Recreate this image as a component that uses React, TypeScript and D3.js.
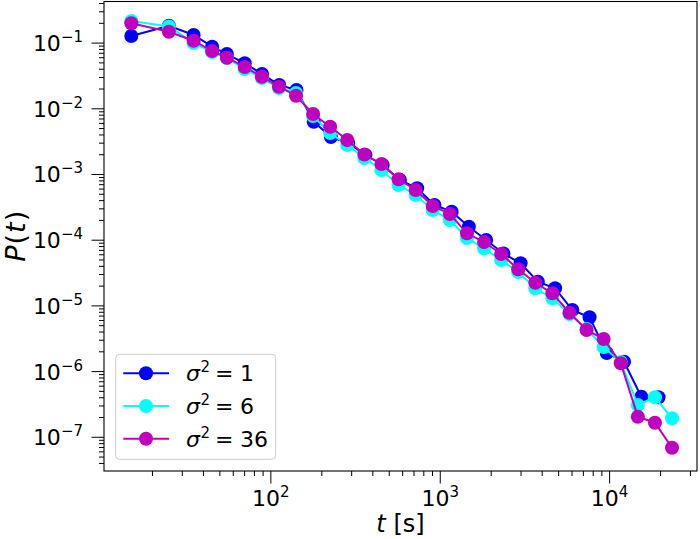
import * as d3 from "d3";

// time bins (s); blue run uses slightly wider log bins
const tBins = [15, 25, 35, 45, 55, 70.1, 88.5, 111.6, 140.8, 177.6, 224, 282.6, 356.5, 449.7, 567.3, 716, 903, 1140, 1438, 1814, 2288, 2886, 3641, 4593, 5794, 7310, 9222, 11634, 14677, 18516, 23357];
const tBinsBlue = [15, 25, 35, 45, 55, 70.1, 88.7, 112.1, 141.7, 179.1, 226.4, 286.2, 361.8, 457.3, 578, 731, 924, 1168, 1476, 1866, 2359, 2982, 3770, 4765, 6023, 7614, 9625, 12166, 15380, 19442];

const pSigma1 = [0.1282, 0.184, 0.1328, 0.0882, 0.0683, 0.0493, 0.0339, 0.023, 0.0193, 0.00636, 0.00372, 0.00302, 0.00198, 0.001395, 0.000825, 0.000617, 0.000343, 0.000272, 0.0001605, 0.0001007, 6.27e-5, 4.45e-5, 2.335e-5, 1.853e-5, 8.66e-6, 6.71e-6, 1.919e-6, 1.415e-6, 4.15e-7, 4.06e-7];
const pSigma6 = [0.217, 0.179, 0.1003, 0.0732, 0.0593, 0.0403, 0.0294, 0.0207, 0.0174, 0.00777, 0.00428, 0.00281, 0.001782, 0.001171, 0.000692, 0.000488, 0.000288, 0.000203, 0.000108, 7.53e-5, 5.0e-5, 3.28e-5, 1.853e-5, 1.305e-5, 7.53e-6, 4.45e-6, 2.37e-6, 1.4e-6, 3.1e-7, 4.06e-7, 1.946e-7];
const pSigma36 = [0.2, 0.149, 0.1088, 0.0758, 0.0599, 0.0433, 0.0308, 0.0217, 0.01583, 0.00834, 0.00534, 0.00335, 0.002016, 0.001445, 0.000845, 0.000581, 0.000332, 0.0002505, 0.0001274, 9.39e-5, 6.17e-5, 3.61e-5, 2.25e-5, 1.555e-5, 7.88e-6, 4.3e-6, 3.13e-6, 1.337e-6, 2.06e-7, 1.668e-7, 6.94e-8];

const sigmaLabels = ["1", "6", "36"];
const colors = ["#0000ff", "#00ffff", "#bf00bf"];

const font = "DejaVu Sans";

function exp(n: number) {
  return n < 0 ? `\u2212${-n}` : `${n}`;
}

export default function App() {
  const width = 700;
  const height = 539;
  const left = 104;
  const right = 697;
  const top = 1.5;
  const bottom = 471;

  const x = d3.scaleLog([10.35, 32800], [left, right]);
  const y = d3.scaleLog([10 ** -7.513, 10 ** -0.3668], [bottom, top]);

  const series = [
    { t: tBinsBlue, p: pSigma1 },
    { t: tBins, p: pSigma6 },
    { t: tBins, p: pSigma36 },
  ];

  const isMajor = (v: number) => Math.abs(Math.log10(v) - Math.round(Math.log10(v))) < 1e-9;
  const xTicks = x.ticks();
  const yTicks = y.ticks();

  return (
    <svg width={width} height={height} style={{ position: "absolute", left: 0, top: 0 }} fontFamily={font}>
      <rect width={width} height={height} fill="white" />
      <defs>
        <clipPath id="plot">
          <rect x={left} y={top} width={right - left} height={bottom - top} />
        </clipPath>
      </defs>

      <g clipPath="url(#plot)">
        {series.map((s, si) => {
          const line = d3.line<number>((d, i) => x(s.t[i]), (d) => y(d));
          return (
            <g key={si}>
              <path d={line(s.p) ?? ""} fill="none" stroke={colors[si]} strokeWidth={2} />
              {s.p.map((d, i) => (
                <circle key={i} cx={x(s.t[i])} cy={y(d)} r={7} fill={colors[si]} />
              ))}
            </g>
          );
        })}
      </g>

      {/* ticks */}
      <g stroke="black" strokeWidth={1}>
        {xTicks.map((v, i) => {
          const m = isMajor(v);
          return <line key={i} x1={x(v)} x2={x(v)} y1={bottom} y2={bottom + (m ? 12.5 : 5)} />;
        })}
        {yTicks.map((v, i) => {
          const m = isMajor(v);
          return <line key={i} x1={left} x2={left - (m ? 12.5 : 5)} y1={y(v)} y2={y(v)} />;
        })}
      </g>
      {xTicks.filter(isMajor).map((v, i) => (
        <text key={i} x={x(v)} y={506} fontSize={22} textAnchor="middle">
          10<tspan dy={-9} fontSize={15}>{exp(Math.round(Math.log10(v)))}</tspan>
        </text>
      ))}
      {yTicks.filter(isMajor).map((v, i) => (
        <text key={i} x={83} y={y(v) + 8} fontSize={22} textAnchor="end">
          10<tspan dy={-9} fontSize={15}>{exp(Math.round(Math.log10(v)))}</tspan>
        </text>
      ))}

      {/* frame */}
      <rect x={left} y={top} width={right - left} height={bottom - top} fill="none" stroke="black" strokeWidth={1.1} />

      {/* axis labels */}
      <text x={(left + right) / 2} y={532} fontSize={24} textAnchor="middle">
        <tspan fontStyle="italic">t</tspan> [s]
      </text>
      <text transform={`translate(25, ${(top + bottom) / 2}) rotate(-90)`} fontSize={27} textAnchor="middle">
        <tspan fontStyle="italic">P</tspan>
        <tspan dx={1}>(</tspan>
        <tspan fontStyle="italic" dx={1}>t</tspan>
        <tspan dx={1}>)</tspan>
      </text>

      {/* legend */}
      <rect x={115.7} y={354.3} width={160} height={105} rx={4} fill="white" fillOpacity={0.8} stroke="#cccccc" />
      {sigmaLabels.map((lab, i) => {
        const ry = 373.3 + i * 32.7;
        return (
          <g key={i}>
            <line x1={123.3} x2={169} y1={ry} y2={ry} stroke={colors[i]} strokeWidth={2} />
            <circle cx={146} cy={ry} r={7} fill={colors[i]} />
            <text y={ry + 8} fontSize={22}>
              <tspan x={186} fontStyle="italic">σ</tspan>
              <tspan x={200.5} dy={-9} fontSize={15}>2</tspan>
              <tspan x={215} dy={9}>=</tspan>
              <tspan x={240}>{lab}</tspan>
            </text>
          </g>
        );
      })}
    </svg>
  );
}
